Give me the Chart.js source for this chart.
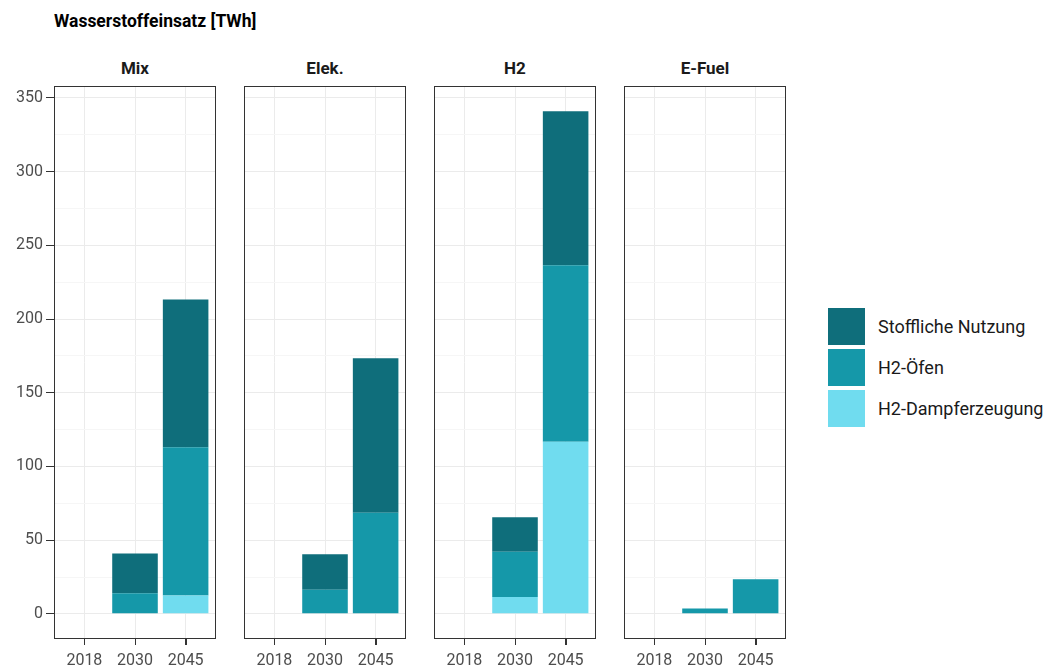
<!DOCTYPE html>
<html><head><meta charset="utf-8">
<script src="https://cdn.jsdelivr.net/npm/chart.js@4.4.1/dist/chart.umd.min.js"></script>
<style>
html,body{margin:0;padding:0;background:#fff;width:1046px;height:666px;overflow:hidden;font-family:Roboto,sans-serif;}
canvas{position:absolute;left:0;top:0;}
.t{position:absolute;white-space:nowrap;line-height:1;}
.strip{font-weight:bold;font-size:17px;color:#1a1a1a;text-align:center;width:162px;}
.key{position:absolute;width:37px;height:37px;}
.lab{position:absolute;font-size:18px;color:#1a1a1a;white-space:nowrap;line-height:1;}
</style></head><body>
<div class="t" id="title" style="left:54px;top:13px;font-weight:bold;font-size:17.5px;color:#000">Wasserstoffeinsatz [TWh]</div>
<div id="strips"></div>
<div id="legend"></div>
<canvas id="c0" width="1046" height="666"></canvas>
<canvas id="c1" width="1046" height="666"></canvas>
<canvas id="c2" width="1046" height="666"></canvas>
<canvas id="c3" width="1046" height="666"></canvas>
<script>
// ---- data ----
const years = ['2018', '2030', '2045'];
const scenarios = ['Mix', 'Elek.', 'H2', 'E-Fuel'];
const seriesNames = ['Stoffliche Nutzung', 'H2-Öfen', 'H2-Dampferzeugung'];
const yTickValues = [0, 50, 100, 150, 200, 250, 300, 350];

const dampfMix   = [0, 0, 12.5];
const ofenMix    = [0, 14, 100.5];
const stoffMix   = [0, 27, 100.3];
const dampfElek  = [0, 0, 0];
const ofenElek   = [0, 16.4, 68.6];
const stoffElek  = [0, 24, 104.7];
const dampfH2    = [0, 11.4, 116.8];
const ofenH2     = [0, 30.8, 119.6];
const stoffH2    = [0, 23.4, 104.6];
const dampfEFuel = [0, 0, 0];
const ofenEFuel  = [0, 3.6, 23.5];
const stoffEFuel = [0, 0, 0];

// ---- styles / layout ----
const colStoff = '#0f6e7b';
const colOfen  = '#1598a9';
const colDampf = '#70dcef';
const panelLefts = [54, 244, 434, 624];
const panelW = 162;
const panelTop = 86, panelBottom = 639;
const W = 1046, H = 666;

const panelData = [
  [dampfMix, ofenMix, stoffMix],
  [dampfElek, ofenElek, stoffElek],
  [dampfH2, ofenH2, stoffH2],
  [dampfEFuel, ofenEFuel, stoffEFuel]
];

let yMaxData = 0;
panelData.forEach(p => {
  for (let i = 0; i < years.length; i++) {
    yMaxData = Math.max(yMaxData, p[0][i] + p[1][i] + p[2][i]);
  }
});
const yPad = yMaxData * 0.05;

// strips
const strips = document.getElementById('strips');
scenarios.forEach((s, i) => {
  const d = document.createElement('div');
  d.className = 't strip';
  d.style.left = panelLefts[i] + 'px';
  d.style.top = '60px';
  d.textContent = s;
  strips.appendChild(d);
});

// legend (top entry = Stoffliche)
const legend = document.getElementById('legend');
const legCols = [colStoff, colOfen, colDampf];
seriesNames.forEach((n, i) => {
  const k = document.createElement('div');
  k.className = 'key';
  k.style.left = '828px';
  k.style.top = (308 + i * 41) + 'px';
  k.style.background = legCols[i];
  legend.appendChild(k);
  const l = document.createElement('div');
  l.className = 'lab';
  l.style.left = '878px';
  l.style.top = (318 + i * 41) + 'px';
  l.textContent = n;
  legend.appendChild(l);
});

const framePlugin = {
  id: 'frame',
  afterDraw(chart) {
    const a = chart.chartArea, ctx = chart.ctx;
    ctx.save();
    ctx.strokeStyle = '#333333';
    ctx.lineWidth = 1;
    ctx.strokeRect(a.left + 0.5, a.top + 0.5, a.right - a.left - 1, a.bottom - a.top - 1);
    // x-axis tick marks at the scale's own tick positions
    const xs = chart.scales.x;
    ctx.beginPath();
    xs.ticks.forEach((t, k) => {
      const px = Math.round(xs.getPixelForTick(k)) + 0.5;
      ctx.moveTo(px, a.bottom);
      ctx.lineTo(px, a.bottom + 6);
    });
    ctx.stroke();
    ctx.restore();
  }
};

function makePanel(i) {
  const showY = i === 0;
  const left = panelLefts[i];
  const right = left + panelW;
  const [dampf, ofen, stoff] = panelData[i];
  const toXY = arr => arr.map((v, k) => ({ x: k + 1, y: v }));
  const ds = (label, arr, col) => ({
    label, data: toXY(arr), backgroundColor: col, borderWidth: 0,
    barPercentage: 0.9, categoryPercentage: 1.0
  });
  new Chart(document.getElementById('c' + i), {
    type: 'bar',
    data: {
      datasets: [
        ds(seriesNames[2], dampf, colDampf),
        ds(seriesNames[1], ofen, colOfen),
        ds(seriesNames[0], stoff, colStoff)
      ]
    },
    options: {
      responsive: false, animation: false,
      layout: { padding: { left: showY ? 0 : left, right: W - right, top: panelTop, bottom: 0 } },
      plugins: { legend: { display: false }, tooltip: { enabled: false } },
      scales: {
        x: {
          type: 'linear', stacked: true, offset: false,
          min: 0.4, max: years.length + 0.6,
          afterBuildTicks: s => { s.ticks = years.map((y, k) => ({ value: k + 1 })); },
          afterFit: s => { s.height = H - panelBottom; },
          ticks: {
            autoSkip: false, maxRotation: 0, padding: 6,
            color: '#4d4d4d', font: { family: 'Roboto', size: 16 },
            callback: v => years[Math.round(v) - 1]
          },
          grid: { offset: false, color: '#ebebeb', lineWidth: 1, tickColor: '#333333', tickLength: 6, drawTicks: true },
          border: { display: false }
        },
        y: {
          type: 'linear', stacked: true,
          min: -yPad, max: yMaxData + yPad,
          afterBuildTicks: s => {
            const t = [];
            for (let v = 0; v <= yTickValues[yTickValues.length - 1]; v += 25) t.push({ value: v });
            s.ticks = t;
          },
          afterFit: s => { s.width = showY ? left : 0; },
          ticks: {
            display: showY, padding: 3,
            color: '#4d4d4d', font: { family: 'Roboto', size: 16 },
            callback: v => (yTickValues.includes(v) ? String(v) : '')
          },
          grid: {
            color: c => (c.tick && yTickValues.includes(c.tick.value)) ? '#ebebeb' : '#f6f6f6',
            lineWidth: 1,
            drawTicks: showY,
            tickLength: 8,
            tickColor: c => (c.tick && yTickValues.includes(c.tick.value)) ? '#333333' : 'rgba(0,0,0,0)'
          },
          border: { display: false }
        }
      }
    },
    plugins: [framePlugin]
  });
}
for (let i = 0; i < 4; i++) makePanel(i);
</script>
</body></html>
